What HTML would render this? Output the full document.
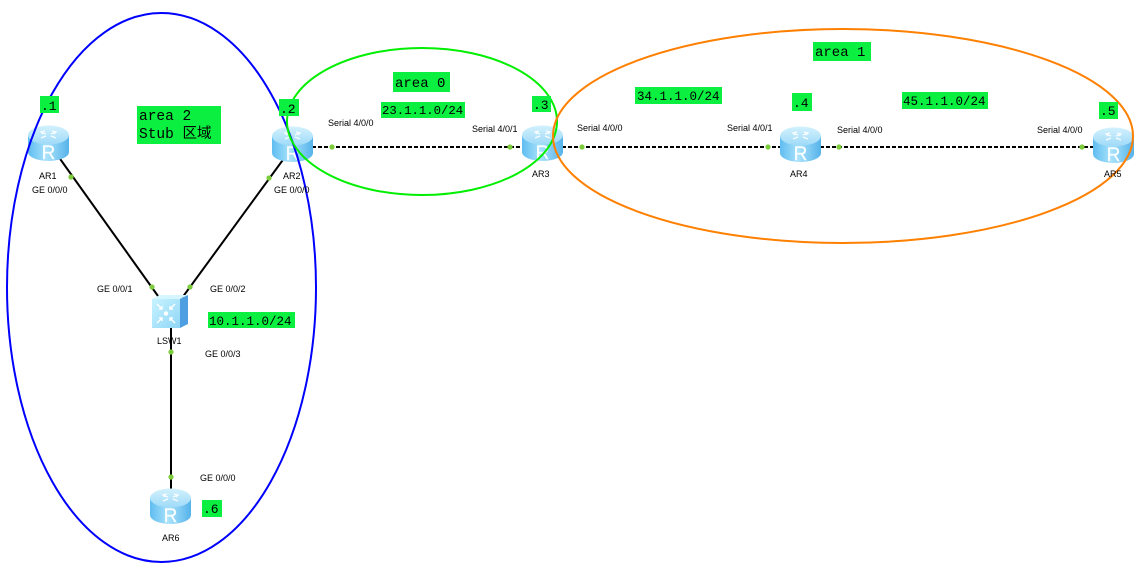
<!DOCTYPE html>
<html>
<head>
<meta charset="utf-8">
<style>
html,body{margin:0;padding:0;background:#fff;}
svg{display:block;}
.s{font-family:"Liberation Sans",Arial,sans-serif;font-size:9px;fill:#000;}
.m{font-family:"Liberation Mono","Noto Sans CJK SC",monospace;fill:#000;}
.r{font-family:"Liberation Sans",Arial,sans-serif;font-size:19px;fill:#fff;text-anchor:middle;stroke:#e8f8ff;stroke-width:0.4;}
</style>
</head>
<body>
<svg width="1143" height="573" viewBox="0 0 1143 573" xmlns="http://www.w3.org/2000/svg">
<defs>
  <linearGradient id="rb" x1="0" y1="0" x2="1" y2="0">
    <stop offset="0" stop-color="#5fbdf0"/>
    <stop offset="0.45" stop-color="#a9e2fb"/>
    <stop offset="1" stop-color="#55b3ea"/>
  </linearGradient>
  <linearGradient id="rt" x1="0" y1="0" x2="0" y2="1">
    <stop offset="0" stop-color="#d2f1fd"/>
    <stop offset="1" stop-color="#9fdaf8"/>
  </linearGradient>
  <linearGradient id="sf" x1="0" y1="0" x2="1" y2="1">
    <stop offset="0" stop-color="#c8f3ff"/>
    <stop offset="1" stop-color="#8fd6f6"/>
  </linearGradient>
  <g id="rtr">
    <path d="M0,10 V27 A20.5,9 0 0 0 41,27 V10 Z" fill="url(#rb)"/>
    <ellipse cx="20.5" cy="10" rx="20.5" ry="9.5" fill="url(#rt)"/>
    <g stroke="#ffffff" stroke-width="1.3" fill="none" opacity="0.9">
      <path d="M13,7 l5,2 M28,7 l-5,2 M13,13 l5,-2 M28,13 l-5,-2"/>
      <path d="M17,6 l-4,1 l2,2 M24,6 l4,1 l-2,2"/>
    </g>
  </g>
</defs>

<rect width="1143" height="573" fill="#fff"/>

<!-- solid links -->
<g stroke="#000" stroke-width="2" fill="none">
  <line x1="58" y1="156" x2="158" y2="296"/>
  <line x1="285" y1="157" x2="182" y2="298"/>
  <line x1="171" y1="326" x2="171" y2="490"/>
</g>
<!-- dashed serial links -->
<g stroke="#000" stroke-width="2" stroke-dasharray="4 2" fill="none">
  <line x1="312" y1="147" x2="523" y2="147"/>
  <line x1="562" y1="147" x2="781" y2="147"/>
  <line x1="820" y1="147" x2="1094" y2="147"/>
</g>

<!-- routers -->
<g transform="translate(28,125)"><use href="#rtr"/><text class="r" x="20.5" y="34">R</text></g>
<g transform="translate(272,126)"><use href="#rtr"/><text class="r" x="20.5" y="34">R</text></g>
<g transform="translate(522,125)"><use href="#rtr"/><text class="r" x="20.5" y="34">R</text></g>
<g transform="translate(780,126)"><use href="#rtr"/><text class="r" x="20.5" y="34">R</text></g>
<g transform="translate(1093,127)"><use href="#rtr"/><text class="r" x="20.5" y="34">R</text></g>
<g transform="translate(150,488)"><use href="#rtr"/><text class="r" x="20.5" y="34">R</text></g>

<!-- switch -->
<g transform="translate(152,295)">
  <polygon points="0,4 8,0 36,0 28,4" fill="#d6f6ff"/>
  <polygon points="28,4 36,0 36,29 28,33" fill="#4d9fe2"/>
  <rect x="0" y="4" width="28" height="29" fill="url(#sf)"/>
  <g stroke="#fff" stroke-width="1.4" fill="none">
    <path d="M5,9 l5,5 M23,9 l-5,5 M5,28 l5,-5 M23,28 l-5,-5"/>
    <path d="M7,14 h3 v-3 M21,14 h-3 v-3 M7,23 h3 v3 M21,23 h-3 v3"/>
  </g>
  <circle cx="14" cy="18.5" r="2.2" fill="#fff"/>
</g>

<!-- ellipses -->
<g fill="none" stroke-width="2">
  <ellipse cx="161.5" cy="287.5" rx="154.5" ry="274.5" stroke="#0000ff"/>
  <ellipse cx="422" cy="121.5" rx="135" ry="73.5" stroke="#00ee00"/>
  <ellipse cx="843" cy="136" rx="290" ry="107" stroke="#ff8000"/>
</g>

<!-- green port dots -->
<g fill="#7ccc3c">
  <circle cx="71" cy="177" r="2.6"/>
  <circle cx="152" cy="287" r="2.6"/>
  <circle cx="269" cy="178" r="2.6"/>
  <circle cx="190" cy="287" r="2.6"/>
  <circle cx="171" cy="352" r="2.6"/>
  <circle cx="171" cy="477" r="2.6"/>
  <circle cx="332" cy="147" r="2.6"/>
  <circle cx="510" cy="147" r="2.6"/>
  <circle cx="582" cy="147" r="2.6"/>
  <circle cx="768" cy="147" r="2.6"/>
  <circle cx="839" cy="147" r="2.6"/>
  <circle cx="1082" cy="147" r="2.6"/>
</g>

<!-- small labels -->
<g class="s">
  <text x="39" y="179">AR1</text>
  <text x="32" y="193">GE 0/0/0</text>
  <text x="283" y="179">AR2</text>
  <text x="274" y="193">GE 0/0/0</text>
  <text x="328" y="126">Serial 4/0/0</text>
  <text x="472" y="132">Serial 4/0/1</text>
  <text x="532" y="177">AR3</text>
  <text x="577" y="131">Serial 4/0/0</text>
  <text x="727" y="131">Serial 4/0/1</text>
  <text x="790" y="177">AR4</text>
  <text x="837" y="133">Serial 4/0/0</text>
  <text x="1037" y="133">Serial 4/0/0</text>
  <text x="1104" y="177">AR5</text>
  <text x="97" y="292">GE 0/0/1</text>
  <text x="210" y="292">GE 0/0/2</text>
  <text x="157" y="344">LSW1</text>
  <text x="205" y="357">GE 0/0/3</text>
  <text x="200" y="481">GE 0/0/0</text>
  <text x="162" y="541">AR6</text>
</g>

<!-- green label boxes -->
<g fill="#0bf040">
  <rect x="40" y="96" width="19" height="17"/>
  <rect x="279" y="99" width="20" height="17"/>
  <rect x="137" y="106" width="84" height="38"/>
  <rect x="393" y="72" width="57" height="20"/>
  <rect x="381" y="102" width="84" height="16"/>
  <rect x="532" y="96" width="19" height="16"/>
  <rect x="635" y="87" width="87" height="17"/>
  <rect x="792" y="93" width="20" height="18"/>
  <rect x="813" y="42" width="58" height="19"/>
  <rect x="902" y="92" width="86" height="17"/>
  <rect x="1099" y="102" width="19" height="17"/>
  <rect x="202" y="500" width="20" height="17"/>
  <rect x="208" y="312" width="87" height="16"/>
</g>
<g class="m">
  <text x="41" y="110" font-size="13">.1</text>
  <text x="280" y="113" font-size="13">.2</text>
  <text x="139" y="120" font-size="14.5">area 2</text>
  <text x="139" y="138" font-size="14.5">Stub 区域</text>
  <text x="395" y="87" font-size="14">area 0</text>
  <text x="382" y="114" font-size="12.3">23.1.1.0/24</text>
  <text x="533" y="109" font-size="13">.3</text>
  <text x="637" y="100" font-size="12.5">34.1.1.0/24</text>
  <text x="793" y="107" font-size="13">.4</text>
  <text x="815" y="56" font-size="14">area 1</text>
  <text x="903" y="105" font-size="12.5">45.1.1.0/24</text>
  <text x="1100" y="115" font-size="13">.5</text>
  <text x="203" y="513" font-size="13">.6</text>
  <text x="209" y="325" font-size="12.5">10.1.1.0/24</text>
</g>
</svg>
</body>
</html>
